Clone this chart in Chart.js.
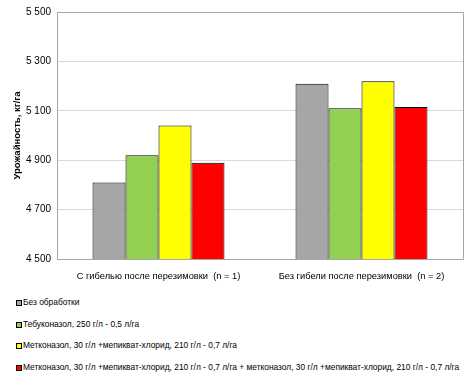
<!DOCTYPE html>
<html>
<head>
<meta charset="utf-8">
<script src="https://cdn.jsdelivr.net/npm/chart.js@4"></script>
<style>
  html, body { margin: 0; padding: 0; background: #fff; }
  #wrap { position: relative; width: 474px; height: 375px; }
  #chart-box { position: absolute; left: 0; top: 0; width: 474px; height: 285px; }
  #legend { position: absolute; left: 16px; top: 295px; font-family: "Liberation Sans", Arial, sans-serif; font-size: 8.4px; color: #000; }
  #legend div { height: 21.7px; line-height: 14px; white-space: nowrap; }
  #legend span.box { display: inline-block; width: 4px; height: 4px; border: 1.5px solid #000; margin-right: 1px; vertical-align: -1px; }
</style>
</head>
<body>
<div id="wrap">
  <div id="chart-box"><canvas id="yieldChart"></canvas></div>
  <div id="legend"></div>
</div>
<script>
// Data
const categories = ['С гибелью после перезимовки  (n = 1)', 'Без гибели после перезимовки  (n = 2)'];
const seriesNames = [
    'Без обработки',
    'Тебуконазол, 250 г/л - 0,5 л/га',
    'Метконазол, 30 г/л  +мепикват-хлорид,  210 г/л - 0,7 л/га',
    'Метконазол, 30 г/л  +мепикват-хлорид,  210 г/л - 0,7 л/га  + метконазол, 30 г/л +мепикват-хлорид,  210 г/л - 0,7 л/га'
];
const noTreatment = [4810, 5210];
const tebuconazole = [4920, 5110];
const metconazole = [5040, 5220];
const metconazoleTwice = [4890, 5115];
const seriesColors = ['#A6A6A6', '#92D050', '#FFFF00', '#FF0000'];

const FONT = '"Liberation Sans", Arial, sans-serif';

function formatThousands(v) {
    return v.toString().replace(/\B(?=(\d{3})+(?!\d))/g, ' ');
}

// draw the grey frame round the plot area
const frame = {
    id: 'frame',
    afterDraw(chart) {
        const a = chart.chartArea;
        const ctx = chart.ctx;
        ctx.save();
        ctx.strokeStyle = '#A6A6A6';
        ctx.lineWidth = 1;
        ctx.strokeRect(Math.round(a.left) + 0.5, Math.round(a.top) + 0.5, Math.round(a.right - a.left), Math.round(a.bottom - a.top));
        ctx.restore();
    }
};

const allValues = [noTreatment, tebuconazole, metconazole, metconazoleTwice];

const chart = new Chart(document.getElementById('yieldChart'), {
    type: 'bar',
    data: {
        labels: categories,
        datasets: seriesNames.map(function(name, i) {
            return {
                label: name,
                data: allValues[i],
                backgroundColor: seriesColors[i],
                borderColor: '#000',
                borderWidth: 1,
                borderSkipped: false,
                barPercentage: 1.0,
                categoryPercentage: 0.65
            };
        })
    },
    options: {
        responsive: true,
        maintainAspectRatio: false,
        animation: false,
        layout: { padding: { top: 10, right: 11, left: 0, bottom: 0 } },
        plugins: {
            legend: { display: false },
            tooltip: { enabled: false }
        },
        scales: {
            x: {
                grid: { display: false },
                border: { display: false },
                ticks: { color: '#000', font: { family: FONT, size: 9.3 }, padding: 4, maxRotation: 0 },
                afterFit: function(s) { s.height = 26; }
            },
            y: {
                min: 4500,
                max: 5500,
                ticks: {
                    stepSize: 200,
                    color: '#000',
                    font: { family: FONT, size: 10 },
                    padding: 6,
                    callback: function(v) { return formatThousands(v); }
                },
                grid: { color: '#D9D9D9', drawTicks: false },
                border: { display: false },
                title: {
                    display: true,
                    text: 'Урожайность, кг/га',
                    color: '#000',
                    font: { family: FONT, size: 9.5, weight: 'bold' },
                    padding: { top: 12, bottom: 0 }
                },
                afterFit: function(s) { s.width = 57; }
            }
        }
    },
    plugins: [frame]
});

// legend as a vertical list below the chart
const legendEl = document.getElementById('legend');
seriesNames.forEach(function(name, i) {
    const row = document.createElement('div');
    const box = document.createElement('span');
    box.className = 'box';
    box.style.background = seriesColors[i];
    row.appendChild(box);
    row.appendChild(document.createTextNode(name));
    legendEl.appendChild(row);
});
</script>
</body>
</html>
